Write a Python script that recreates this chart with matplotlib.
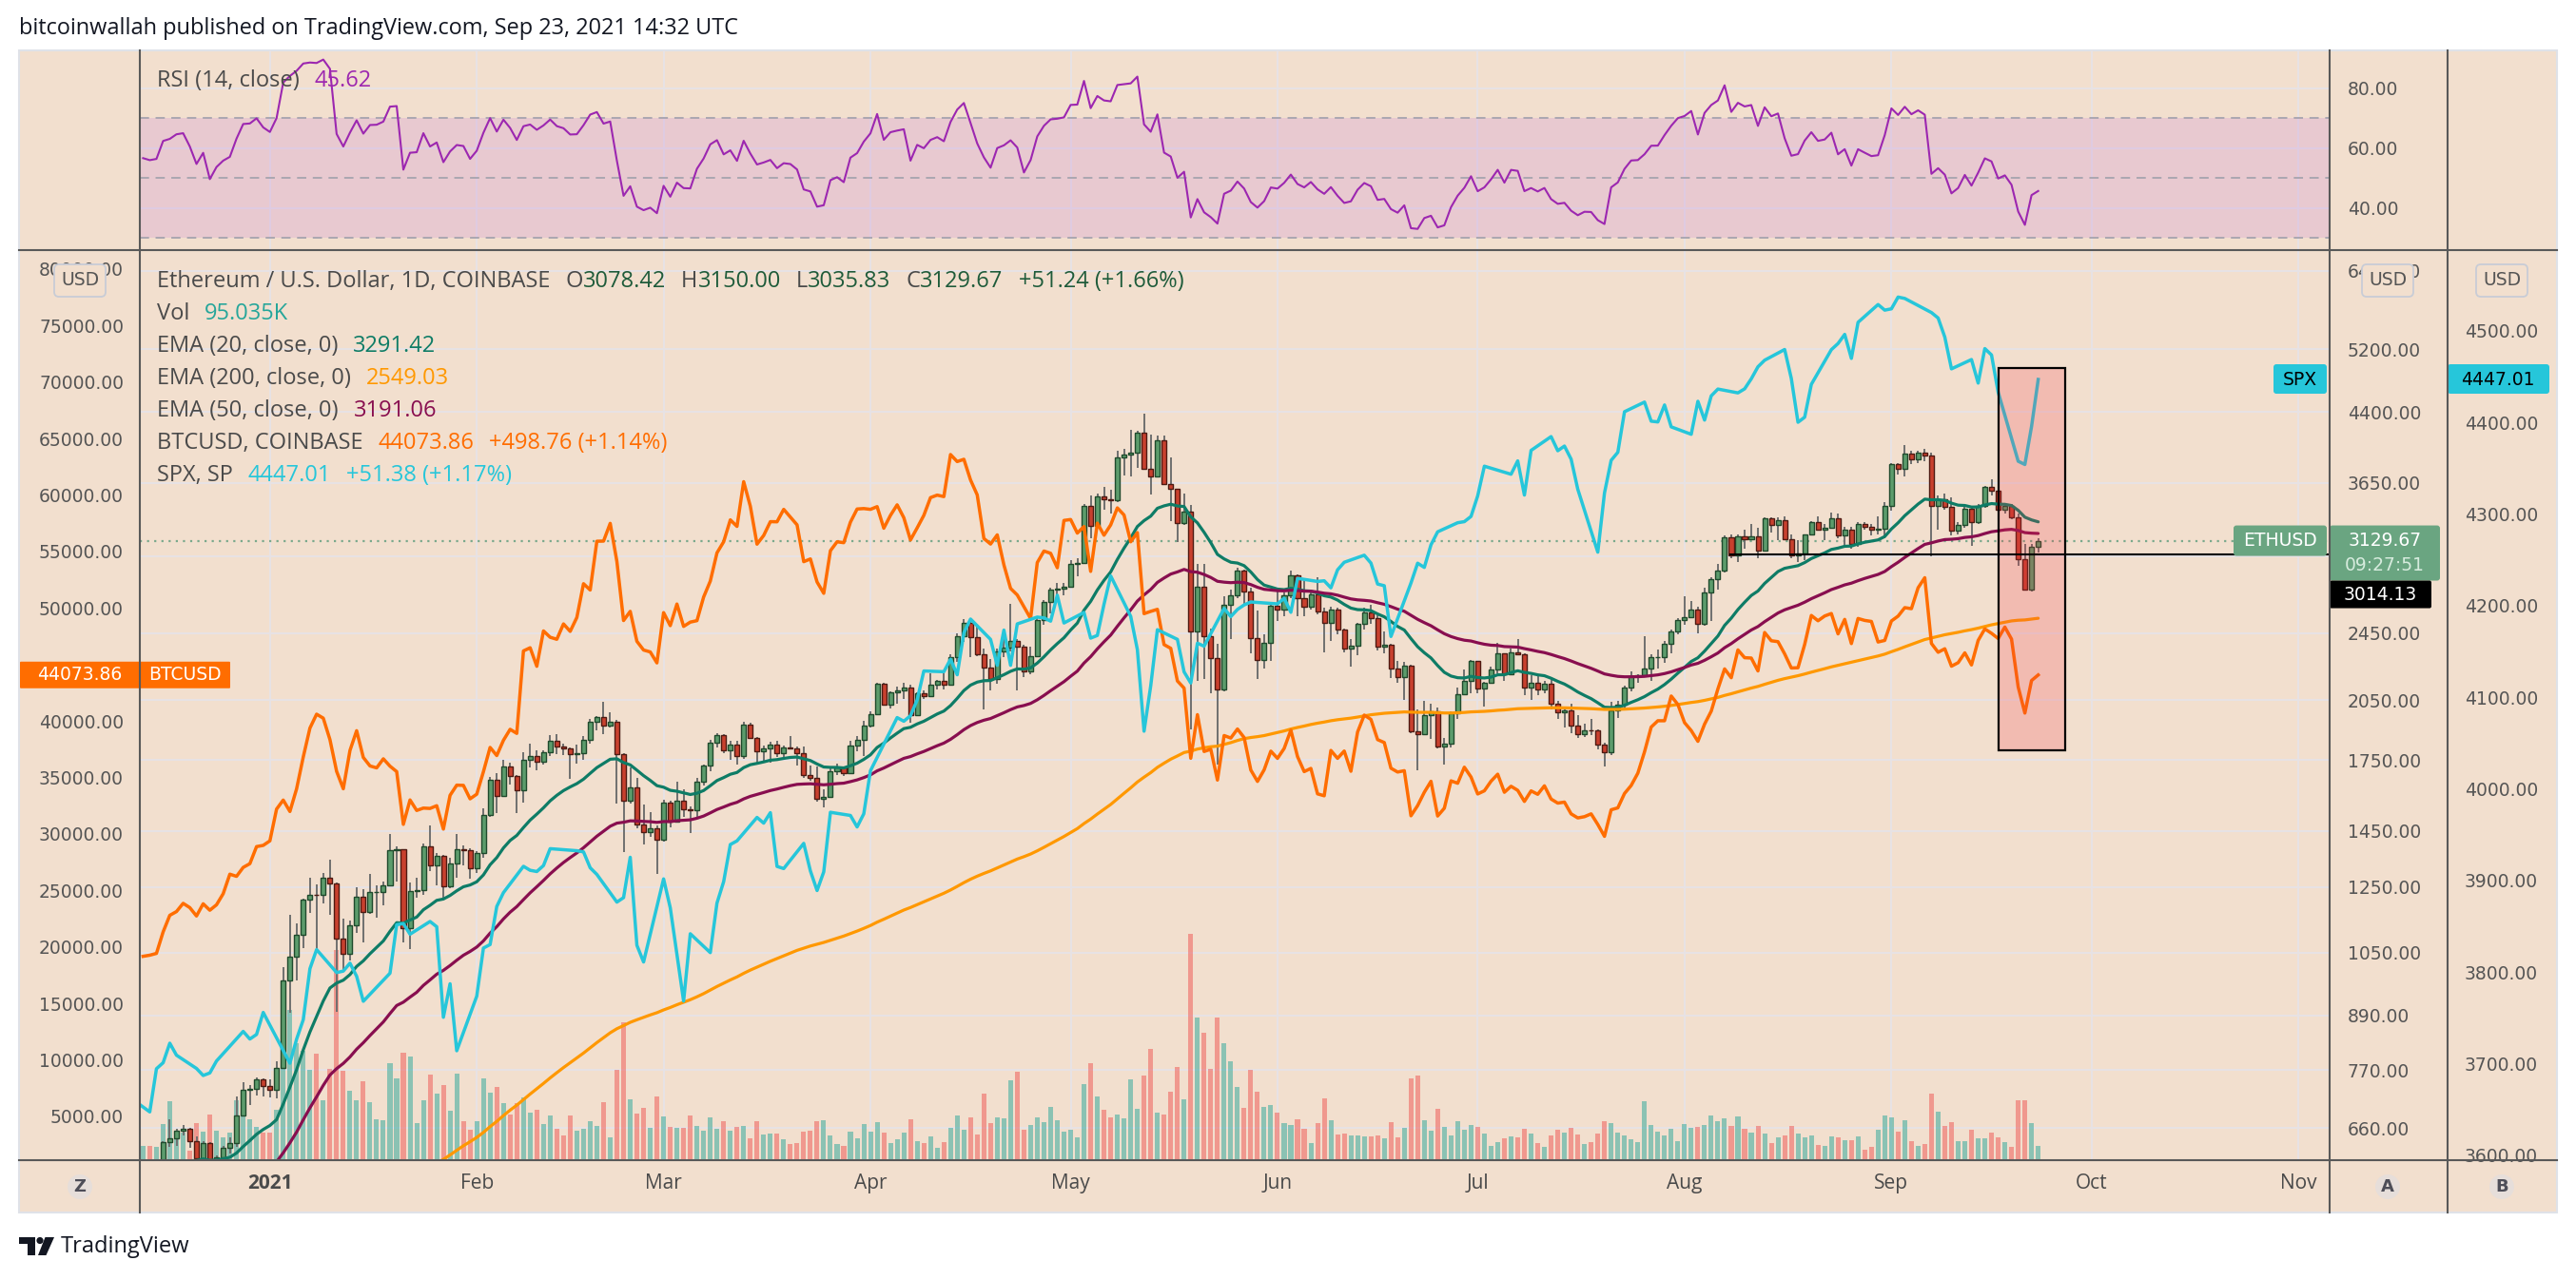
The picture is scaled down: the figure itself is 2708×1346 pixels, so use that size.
import numpy as np
import pandas as pd
import matplotlib
matplotlib.use("Agg")
import matplotlib.pyplot as plt
import matplotlib.transforms as mtransforms
import matplotlib.ticker as mticker
from matplotlib.patches import Rectangle, FancyBboxPatch, Circle, Polygon
from matplotlib.lines import Line2D

# ------------------------------------------------------------------ data
start_date = "2020-12-13"
end_date = "2021-09-23"
eth_first_open = 568.0

eth_close_dec = [590, 586, 589, 636, 642, 655, 658, 638, 609, 634, 584, 611, 626, 635, 683, 731, 733, 751, 737]
eth_close_jan = [730, 774, 975, 1040, 1100, 1208, 1225, 1224, 1281, 1262, 1090, 1046, 1130, 1219, 1171, 1233, 1235, 1257, 1377, 1382, 1121, 1236, 1240, 1391, 1324, 1356, 1252, 1331, 1382, 1377, 1313]
eth_close_feb = [1369, 1512, 1660, 1593, 1719, 1677, 1614, 1751, 1769, 1743, 1785, 1843, 1814, 1805, 1779, 1781, 1848, 1937, 1960, 1919, 1935, 1777, 1571, 1626, 1475, 1446, 1459, 1417]
eth_close_mar = [1565, 1488, 1573, 1536, 1534, 1653, 1724, 1834, 1869, 1795, 1825, 1770, 1924, 1855, 1792, 1806, 1823, 1780, 1810, 1806, 1781, 1680, 1669, 1581, 1587, 1700, 1715, 1691, 1819, 1846, 1919]
eth_close_apr = [1977, 2143, 2028, 2093, 2107, 2118, 1971, 2088, 2071, 2135, 2157, 2139, 2299, 2432, 2514, 2422, 2316, 2235, 2171, 2332, 2357, 2402, 2363, 2211, 2307, 2534, 2662, 2747, 2756, 2773]
eth_close_may = [2945, 2950, 3431, 3253, 3522, 3490, 3484, 3902, 3928, 3952, 4168, 3785, 3715, 4079, 3640, 3588, 3282, 3378, 2460, 2773, 2430, 2295, 2109, 2643, 2706, 2888, 2736, 2419, 2279, 2390, 2633]
eth_close_jun = [2610, 2710, 2856, 2690, 2630, 2713, 2592, 2517, 2608, 2471, 2353, 2372, 2508, 2590, 2548, 2363, 2373, 2230, 2178, 2245, 1888, 1875, 1970, 1990, 1812, 1829, 1980, 2085, 2160, 2275]
eth_close_jul = [2113, 2150, 2227, 2322, 2198, 2326, 2317, 2118, 2146, 2112, 2140, 2034, 1987, 1994, 1919, 1875, 1895, 1893, 1822, 1787, 1995, 2028, 2123, 2187, 2190, 2233, 2298, 2299, 2381, 2462, 2536]
eth_close_aug = [2557, 2607, 2508, 2725, 2827, 2891, 3158, 3013, 3163, 3142, 3164, 3046, 3322, 3265, 3308, 3145, 3012, 3029, 3181, 3287, 3226, 3242, 3320, 3172, 3225, 3103, 3270, 3244, 3220, 3228, 3433]
eth_close_sep = [3834, 3788, 3937, 3886, 3953, 3925, 3428, 3495, 3427, 3211, 3266, 3407, 3287, 3430, 3608, 3577, 3397, 3432, 3330, 2978, 2752, 3078.42, 3129.67]

eth_high_dec = [592, 592, 597, 638, 676, 659, 666, 660, 646, 638, 636, 614, 630, 644, 718, 746, 739, 754, 752]
eth_high_jan = [750, 787, 1011, 1160, 1136, 1211, 1280, 1260, 1298, 1345, 1265, 1150, 1145, 1248, 1244, 1295, 1256, 1268, 1440, 1393, 1382, 1265, 1280, 1403, 1473, 1367, 1360, 1352, 1437, 1395, 1384]
eth_high_feb = [1375, 1540, 1672, 1690, 1749, 1738, 1680, 1785, 1827, 1794, 1795, 1870, 1873, 1827, 1808, 1825, 1867, 1950, 1965, 2040, 1985, 1945, 1780, 1716, 1670, 1554, 1525, 1470]
eth_high_mar = [1575, 1570, 1654, 1620, 1547, 1669, 1730, 1845, 1878, 1876, 1840, 1840, 1935, 1933, 1862, 1820, 1835, 1840, 1817, 1867, 1813, 1815, 1723, 1720, 1620, 1710, 1733, 1720, 1840, 1863, 1940]
eth_high_apr = [1990, 2146, 2145, 2100, 2125, 2145, 2135, 2095, 2102, 2200, 2165, 2200, 2318, 2449, 2545, 2545, 2495, 2352, 2290, 2350, 2445, 2645, 2409, 2373, 2365, 2557, 2675, 2760, 2798, 2800]
eth_high_may = [2970, 2990, 3450, 3530, 3550, 3610, 3580, 3970, 3990, 4200, 4188, 4385, 4150, 4140, 4135, 3900, 3590, 3550, 3440, 2940, 2940, 2480, 2380, 2700, 2750, 2910, 2895, 2765, 2600, 2440, 2640]
eth_high_jun = [2740, 2725, 2890, 2860, 2820, 2745, 2840, 2620, 2630, 2620, 2480, 2410, 2520, 2620, 2640, 2570, 2460, 2380, 2275, 2270, 2250, 2000, 2045, 2030, 2010, 1855, 1990, 2120, 2225, 2280]
eth_high_jul = [2275, 2155, 2240, 2390, 2322, 2350, 2410, 2320, 2190, 2190, 2160, 2170, 2045, 2005, 2030, 1970, 1925, 1950, 1900, 1830, 2040, 2045, 2130, 2215, 2195, 2430, 2315, 2345, 2400, 2470, 2550]
eth_high_aug = [2700, 2665, 2630, 2760, 2840, 2945, 3175, 3185, 3180, 3225, 3270, 3235, 3330, 3330, 3330, 3335, 3180, 3135, 3185, 3300, 3335, 3270, 3375, 3360, 3250, 3245, 3285, 3290, 3270, 3340, 3470]
eth_high_sep = [3840, 3840, 4030, 3975, 3970, 3990, 3950, 3530, 3550, 3510, 3290, 3440, 3410, 3445, 3615, 3680, 3590, 3460, 3445, 3360, 3100, 3100, 3150.00]

eth_low_dec = [567, 577, 580, 585, 628, 630, 647, 627, 600, 598, 565, 578, 605, 617, 628, 682, 702, 719, 718]
eth_low_jan = [715, 714, 773, 895, 976, 1063, 1167, 1060, 1196, 1160, 898, 1004, 1030, 1107, 1080, 1165, 1153, 1190, 1257, 1268, 1078, 1060, 1215, 1225, 1304, 1255, 1216, 1245, 1282, 1325, 1278]
eth_low_feb = [1296, 1351, 1507, 1520, 1597, 1641, 1520, 1563, 1716, 1705, 1727, 1767, 1776, 1772, 1665, 1735, 1750, 1827, 1893, 1875, 1906, 1560, 1371, 1560, 1460, 1400, 1427, 1293]
eth_low_mar = [1410, 1463, 1486, 1506, 1441, 1507, 1635, 1700, 1808, 1780, 1750, 1730, 1757, 1850, 1732, 1740, 1738, 1765, 1750, 1800, 1726, 1670, 1655, 1567, 1544, 1588, 1680, 1676, 1685, 1793, 1770]
eth_low_apr = [1906, 1970, 2022, 2007, 2030, 2057, 1930, 1968, 2055, 2069, 2110, 2110, 2135, 2270, 2395, 2300, 2306, 2000, 2105, 2140, 2300, 2335, 2106, 2180, 2195, 2307, 2505, 2580, 2670, 2709]
eth_low_may = [2773, 2850, 2950, 3150, 3237, 3400, 3360, 3462, 3720, 3710, 3800, 3780, 3540, 3725, 3630, 3300, 3120, 3260, 1900, 2160, 2170, 2090, 1730, 2100, 2410, 2690, 2650, 2320, 2170, 2230, 2275]
eth_low_jun = [2530, 2560, 2690, 2560, 2560, 2605, 2575, 2330, 2400, 2440, 2330, 2240, 2310, 2470, 2510, 2340, 2320, 2175, 2150, 2050, 1880, 1705, 1880, 1850, 1805, 1730, 1810, 1950, 2080, 2090]
eth_low_jul = [2090, 2015, 2140, 2200, 2160, 2190, 2310, 2080, 2050, 2080, 2090, 2000, 1950, 1910, 1880, 1855, 1860, 1870, 1800, 1720, 1775, 1955, 1995, 2100, 2150, 2180, 2160, 2230, 2265, 2320, 2440]
eth_low_aug = [2505, 2560, 2450, 2500, 2530, 2750, 2880, 2990, 2955, 3060, 3140, 2985, 3040, 3200, 3130, 3140, 2985, 2960, 2975, 3175, 3210, 3130, 3235, 3150, 3070, 3065, 3080, 3220, 3170, 3180, 3150]
eth_low_sep = [3385, 3725, 3715, 3830, 3845, 3860, 3000, 3220, 3395, 3170, 3180, 3240, 3090, 3270, 3410, 3530, 3360, 3360, 3310, 2930, 2740, 2735, 3035.83]

# ETH volume, thousands of ETH
vol_dec = [99, 99, 93, 246, 399, 164, 186, 67, 250, 192, 308, 198, 153, 186, 408, 373, 276, 224, 190]
vol_jan = [186, 341, 794, 1020, 794, 746, 613, 723, 406, 619, 1432, 606, 470, 406, 535, 393, 276, 270, 658, 554, 729, 703, 250, 406, 580, 451, 509, 334, 587, 263, 205]
vol_feb = [263, 554, 457, 496, 386, 308, 386, 425, 321, 341, 244, 302, 211, 166, 302, 198, 211, 263, 231, 393, 153, 617, 936, 412, 315, 354, 218, 431]
vol_mar = [296, 224, 218, 218, 302, 231, 198, 289, 211, 263, 198, 224, 231, 147, 263, 173, 179, 179, 140, 108, 114, 192, 198, 263, 270, 166, 108, 95, 192, 147, 244]
vol_apr = [192, 257, 186, 114, 140, 186, 276, 127, 114, 160, 82, 121, 218, 302, 205, 289, 173, 451, 250, 289, 283, 541, 600, 205, 237, 289, 257, 360, 270, 192]
vol_may = [205, 153, 516, 658, 431, 341, 289, 308, 283, 548, 347, 574, 755, 321, 308, 464, 632, 412, 1538, 968, 865, 619, 968, 794, 671, 496, 354, 613, 464, 360, 373]
vol_jun = [321, 250, 237, 276, 211, 114, 250, 418, 270, 173, 179, 166, 166, 160, 160, 166, 147, 257, 153, 218, 554, 574, 270, 198, 347, 224, 166, 263, 205, 237]
vol_jul = [224, 179, 95, 121, 147, 160, 153, 211, 179, 114, 88, 166, 205, 186, 218, 173, 108, 121, 179, 263, 250, 186, 166, 140, 121, 399, 237, 192, 166, 211, 127]
vol_aug = [244, 218, 224, 237, 302, 263, 283, 231, 296, 211, 186, 231, 179, 114, 153, 166, 231, 179, 153, 166, 101, 95, 160, 153, 134, 134, 160, 69, 88, 205, 302]
vol_sep = [289, 192, 270, 127, 95, 108, 451, 328, 231, 257, 127, 127, 205, 147, 147, 186, 153, 121, 88, 406, 406, 250, 95.035]

# BTCUSD daily close
btc_dec = [19170, 19270, 19430, 21330, 22800, 23130, 23860, 23480, 22740, 23820, 23250, 23730, 24710, 26440, 26250, 27040, 27370, 28880, 28990]
btc_jan = [29390, 32200, 33000, 31990, 33990, 36810, 39370, 40600, 40250, 38350, 35540, 34000, 37390, 39140, 36770, 36020, 35850, 36650, 36000, 35520, 30850, 33010, 32080, 32290, 32260, 32500, 30430, 33420, 34320, 34300, 33110]
btc_feb = [33520, 35510, 37660, 36940, 38290, 39260, 38900, 46200, 46480, 44840, 47970, 47410, 47230, 48590, 47930, 49160, 52150, 51590, 55910, 55920, 57490, 54120, 48890, 49700, 47050, 46280, 46110, 45140]
btc_mar = [49590, 48440, 50350, 48370, 48750, 48880, 50970, 52380, 54880, 55860, 57800, 57220, 61180, 59000, 55650, 56420, 57640, 57630, 58730, 58040, 57360, 54100, 54340, 52300, 51300, 55070, 55860, 55780, 57600, 58760, 58800]
btc_apr = [58730, 58970, 57060, 58200, 59130, 57990, 56020, 57090, 58200, 59770, 59990, 59860, 63580, 62960, 63160, 61330, 60010, 56150, 55660, 56470, 53810, 51730, 51150, 50110, 49070, 54020, 55040, 54840, 53560, 57750]
btc_may = [57830, 56630, 57210, 53240, 57510, 56440, 57350, 58860, 58230, 55860, 56670, 49500, 49700, 49880, 46760, 46430, 43540, 42910, 36700, 40560, 37300, 37500, 34770, 38710, 38490, 39290, 38530, 35660, 34650, 35680, 37330]
btc_jun = [36690, 37570, 39190, 36850, 35520, 35800, 33550, 33380, 37390, 36690, 37340, 35550, 39020, 40520, 40140, 38350, 38090, 35820, 35480, 35600, 31610, 32510, 33690, 34660, 31590, 32280, 34700, 34490, 35910, 35040]
btc_jul = [33540, 33820, 34670, 35290, 33690, 34220, 33860, 32880, 33810, 33510, 34260, 33090, 32730, 32820, 31780, 31420, 31530, 31780, 30840, 29790, 32140, 32310, 33580, 34290, 35380, 37270, 39460, 40020, 40020, 42210, 41460]
btc_aug = [39850, 39150, 38200, 39720, 40870, 42840, 44610, 43830, 46290, 45600, 45570, 44430, 47830, 47100, 47020, 45940, 44690, 44710, 46770, 49340, 48870, 49290, 49510, 47710, 48990, 46850, 49070, 48900, 48810, 46990, 47130]
btc_sep = [48850, 49280, 50030, 49940, 51790, 52680, 46860, 46080, 46390, 44850, 45160, 46030, 44960, 47130, 48150, 47760, 47300, 48310, 47250, 43010, 40700, 43580, 44073.86]

# SPX closes on trading days (month, day-of-month lists)
spx_days = {
    "2020-12": [11, 14, 15, 16, 17, 18, 21, 22, 23, 24, 28, 29, 30, 31],
    "2021-01": [4, 5, 6, 7, 8, 11, 12, 13, 14, 15, 19, 20, 21, 22, 25, 26, 27, 28, 29],
    "2021-02": [1, 2, 3, 4, 5, 8, 9, 10, 11, 12, 16, 17, 18, 19, 22, 23, 24, 25, 26],
    "2021-03": [1, 2, 3, 4, 5, 8, 9, 10, 11, 12, 15, 16, 17, 18, 19, 22, 23, 24, 25, 26, 29, 30, 31],
    "2021-04": [1, 5, 6, 7, 8, 9, 12, 13, 14, 15, 16, 19, 20, 21, 22, 23, 26, 27, 28, 29, 30],
    "2021-05": [3, 4, 5, 6, 7, 10, 11, 12, 13, 14, 17, 18, 19, 20, 21, 24, 25, 26, 27, 28],
    "2021-06": [1, 2, 3, 4, 7, 8, 9, 10, 11, 14, 15, 16, 17, 18, 21, 22, 23, 24, 25, 28, 29, 30],
    "2021-07": [1, 2, 6, 7, 8, 9, 12, 13, 14, 15, 16, 19, 20, 21, 22, 23, 26, 27, 28, 29, 30],
    "2021-08": [2, 3, 4, 5, 6, 9, 10, 11, 12, 13, 16, 17, 18, 19, 20, 23, 24, 25, 26, 27, 30, 31],
    "2021-09": [1, 2, 3, 7, 8, 9, 10, 13, 14, 15, 16, 17, 20, 21, 22, 23],
}
spx_close = {
    "2020-12": [3663.46, 3647.49, 3694.62, 3701.17, 3722.48, 3709.41, 3694.92, 3687.26, 3690.01, 3703.06, 3735.36, 3727.04, 3732.04, 3756.07],
    "2021-01": [3700.65, 3726.86, 3748.14, 3803.79, 3824.68, 3799.61, 3801.19, 3809.84, 3795.54, 3768.25, 3798.91, 3851.85, 3853.07, 3841.47, 3855.36, 3849.62, 3750.77, 3787.38, 3714.24],
    "2021-02": [3773.86, 3826.31, 3830.17, 3871.74, 3886.83, 3915.59, 3911.23, 3909.88, 3916.38, 3934.83, 3932.59, 3931.33, 3913.97, 3906.71, 3876.50, 3881.37, 3925.43, 3829.34, 3811.15],
    "2021-03": [3901.82, 3870.29, 3819.72, 3768.47, 3841.94, 3821.35, 3875.44, 3898.81, 3939.34, 3943.34, 3968.94, 3962.71, 3974.12, 3915.46, 3913.10, 3940.59, 3910.52, 3889.14, 3909.52, 3974.54, 3971.09, 3958.55, 3972.89],
    "2021-04": [4019.87, 4077.91, 4073.94, 4079.95, 4097.17, 4128.80, 4127.99, 4141.59, 4124.66, 4170.42, 4185.47, 4163.26, 4134.94, 4173.42, 4134.98, 4180.17, 4187.62, 4186.72, 4183.18, 4211.47, 4181.17],
    "2021-05": [4192.66, 4164.66, 4167.59, 4201.62, 4232.60, 4188.43, 4152.10, 4063.04, 4112.50, 4173.85, 4163.29, 4127.83, 4115.68, 4159.12, 4155.86, 4197.05, 4188.13, 4195.99, 4200.88, 4204.11],
    "2021-06": [4202.04, 4208.12, 4192.85, 4229.89, 4226.52, 4227.26, 4219.55, 4239.18, 4247.44, 4255.15, 4246.59, 4223.70, 4221.86, 4166.45, 4224.79, 4246.44, 4241.84, 4266.49, 4280.70, 4290.61, 4291.80, 4297.50],
    "2021-07": [4319.94, 4352.34, 4343.54, 4358.13, 4320.82, 4369.55, 4384.63, 4369.21, 4374.30, 4360.03, 4327.16, 4258.49, 4323.06, 4358.69, 4367.48, 4411.79, 4422.30, 4401.46, 4400.64, 4419.15, 4395.26],
    "2021-08": [4387.16, 4423.15, 4402.66, 4429.10, 4436.52, 4432.35, 4436.75, 4447.70, 4460.83, 4468.00, 4479.71, 4448.08, 4400.27, 4405.80, 4441.67, 4479.53, 4486.23, 4496.19, 4470.00, 4509.37, 4528.79, 4522.68],
    "2021-09": [4524.09, 4536.95, 4535.43, 4520.03, 4514.07, 4493.28, 4458.58, 4468.73, 4443.05, 4480.70, 4473.75, 4432.99, 4357.73, 4354.19, 4395.64, 4447.01],
}

# indicator settings / seeds (values estimated at the day before the first candle)
ema_lengths = [20, 50, 200]
ema_seeds = [575.0, 515.0, 380.0]
rsi_length = 14
rsi_seed_gain, rsi_seed_loss = 14.0, 12.0

# axis ticks (45000 is hidden behind the BTC price label in the original)
btc_ticks = [5000, 10000, 15000, 20000, 25000, 30000, 35000, 40000, 50000, 55000, 60000, 65000, 70000, 75000, 80000]
eth_ticks = [660, 770, 890, 1050, 1250, 1450, 1750, 2050, 2450, 3650, 4400, 5200, 6400]
eth_grid_extra = [3000]
spx_ticks = [3600, 3700, 3800, 3900, 4000, 4100, 4200, 4300, 4400, 4500]
rsi_ticks = [40, 60, 80]
month_dates = ["2021-01-01", "2021-02-01", "2021-03-01", "2021-04-01", "2021-05-01", "2021-06-01",
               "2021-07-01", "2021-08-01", "2021-09-01", "2021-10-01", "2021-11-01"]
month_labels = ["2021", "Feb", "Mar", "Apr", "May", "Jun", "Jul", "Aug", "Sep", "Oct", "Nov"]

# annotations drawn by the author
box_start, box_end = "2021-09-17", "2021-09-27"
box_low, box_high = 1796, 4945
hline_start, hline_value = "2021-08-07 16:00", 3014.13

title_text = "bitcoinwallah published on TradingView.com, Sep 23, 2021 14:32 UTC"
eth_last, btc_last, spx_last = 3129.67, 44073.86, 4447.01
countdown = "09:27:51"

# ------------------------------------------------------------------ derived series
base = pd.Timestamp("2021-01-01")
dates = pd.date_range(start_date, end_date, freq="D")
days = (dates - base).days.values.astype(float)

def cat(*parts):
    out = []
    for p in parts:
        out += list(p)
    return np.array(out, dtype=float)

eth_close = cat(eth_close_dec, eth_close_jan, eth_close_feb, eth_close_mar, eth_close_apr, eth_close_may,
                eth_close_jun, eth_close_jul, eth_close_aug, eth_close_sep)
eth_high = cat(eth_high_dec, eth_high_jan, eth_high_feb, eth_high_mar, eth_high_apr, eth_high_may,
               eth_high_jun, eth_high_jul, eth_high_aug, eth_high_sep)
eth_low = cat(eth_low_dec, eth_low_jan, eth_low_feb, eth_low_mar, eth_low_apr, eth_low_may,
              eth_low_jun, eth_low_jul, eth_low_aug, eth_low_sep)
volume = cat(vol_dec, vol_jan, vol_feb, vol_mar, vol_apr, vol_may, vol_jun, vol_jul, vol_aug, vol_sep)
btc = cat(btc_dec, btc_jan, btc_feb, btc_mar, btc_apr, btc_may, btc_jun, btc_jul, btc_aug, btc_sep)
eth_open = np.concatenate([[eth_first_open], eth_close[:-1]])
eth_high = np.maximum(eth_high, np.maximum(eth_open, eth_close))
eth_low = np.minimum(eth_low, np.minimum(eth_open, eth_close))

spx_x, spx_y = [], []
for ym, dl in spx_days.items():
    for d, v in zip(dl, spx_close[ym]):
        spx_x.append((pd.Timestamp(f"{ym}-{d:02d}") - base).days)
        spx_y.append(v)
spx_x = np.array(spx_x, float)
spx_y = np.array(spx_y, float)

def ema(values, n, seed):
    a = 2.0 / (n + 1)
    out = np.empty(len(values))
    prev = seed
    for i, v in enumerate(values):
        prev = a * v + (1 - a) * prev
        out[i] = prev
    return out

def rsi(values, n, prev_close, g0, l0):
    out = np.empty(len(values))
    g, l, pc = g0, l0, prev_close
    for i, v in enumerate(values):
        ch = v - pc
        g = (g * (n - 1) + max(ch, 0)) / n
        l = (l * (n - 1) + max(-ch, 0)) / n
        out[i] = 100 - 100 / (1 + g / l)
        pc = v
    return out

emas = [ema(eth_close, n, s) for n, s in zip(ema_lengths, ema_seeds)]
rsi_vals = rsi(eth_close, rsi_length, eth_first_open, rsi_seed_gain, rsi_seed_loss)

# ------------------------------------------------------------------ style
W, H = 2708, 1346
BG = "#F2DFCE"
GRID = "#E7E3E5"
SEP = "#595959"
TXT = "#4A4A4A"
AXT = "#555555"
UP_FILL, UP_EDGE = "#5C9C6C", "#1F4A2C"
DN_FILL, DN_EDGE = "#C8402E", "#4E1A12"
WICK = "#6F6F6F"
C_EMA20, C_EMA50, C_EMA200 = "#0E7C66", "#880E4F", "#FF9800"
C_BTC, C_SPX, C_RSI = "#FF6D00", "#26C6DA", "#9C27B0"
C_ETHLBL = "#6AA581"
LEG_FONT = "Open Sans"
AX_FONT = "DejaVu Sans"

fig = plt.figure(figsize=(W / 100, H / 100), dpi=100)
fig.patch.set_facecolor("white")
IDT = mtransforms.IdentityTransform()

PL, PR = 147, 2449
RSI_T, MAIN_T, MAIN_B, CONT_B = 53, 263, 1220, 1275
XLIM = (-19.49, 308.67)

def rect(x0, y0, x1, y1):
    return [x0 / W, 1 - y1 / H, (x1 - x0) / W, (y1 - y0) / H]

def make_ax(r, z):
    ax = fig.add_axes(r)
    ax.set_zorder(z)
    ax.patch.set_visible(False)
    for s in ax.spines.values():
        s.set_visible(False)
    ax.set_xlim(*XLIM)
    return ax

# container background
fig.add_artist(Rectangle((20, H - CONT_B), 2668, CONT_B - RSI_T, transform=IDT,
                         facecolor=BG, edgecolor="#DFE2E8", lw=1.5, zorder=-5))

month_x = [(pd.Timestamp(m) - base).days for m in month_dates]

# ---------------- RSI pane
ax_rsi = make_ax(rect(PL, RSI_T, PR, MAIN_T), 1)
ax_rsi.set_ylim(25.93, 92.68)
ax_rsi.set_xticks(month_x)
ax_rsi.set_yticks(rsi_ticks, labels=[f"{v:.2f}" for v in rsi_ticks])
ax_rsi.grid(True, color=GRID, lw=1.4, zorder=0)
ax_rsi.set_axisbelow(True)
ax_rsi.yaxis.tick_right()
ax_rsi.tick_params(axis="x", length=0, labelbottom=False)
ax_rsi.tick_params(axis="y", length=0, pad=13.5, labelsize=13.5, labelcolor=AXT, labelfontfamily=AX_FONT)
ax_rsi.axhspan(30, 70, color=(192 / 255, 113 / 255, 217 / 255), alpha=0.2, lw=0, zorder=1)
for lvl in (70, 50, 30):
    ax_rsi.axhline(lvl, color="#ABA7B1", lw=1.4, ls=(0, (5, 3.5)), zorder=2)
ax_rsi.plot(days, rsi_vals, color=C_RSI, lw=1.5, zorder=3)

# ---------------- grid / time axis
ax_grid = make_ax(rect(PL, MAIN_T, PR, MAIN_B), 1)
ax_grid.set_yscale("log")
ax_grid.set_ylim(606.1, 6759)
ax_grid.set_yticks(sorted(eth_ticks + eth_grid_extra))
ax_grid.yaxis.set_minor_locator(mticker.NullLocator())
ax_grid.set_xticks(month_x, labels=month_labels)
ax_grid.grid(True, color=GRID, lw=1.4)
ax_grid.tick_params(axis="y", left=False, labelleft=False)
ax_grid.tick_params(axis="x", length=0, pad=10, labelsize=15, labelcolor=TXT, labelfontfamily=LEG_FONT)
ax_grid.get_xticklabels()[0].set_fontweight("bold")

# ---------------- volume
ax_vol = make_ax(rect(PL, MAIN_T, PR, MAIN_B), 2)
ax_vol.set_ylim(0, 6192)
up = eth_close >= eth_open
vcol = np.where(up, "#26A69A", "#EF5350")
ax_vol.bar(days, volume, width=0.72, color=vcol, alpha=0.5, lw=0)
ax_vol.set_xticks([]); ax_vol.set_yticks([])

# ---------------- ETH candles + EMAs
ax_eth = make_ax(rect(PL, MAIN_T, PR, MAIN_B), 3)
ax_eth.set_yscale("log")
ax_eth.set_ylim(606.1, 6759)
ax_eth.axhline(eth_last, color="#7AA98C", lw=1.6, ls=(0, (1, 2.4)), zorder=1)
ax_eth.vlines(days, eth_low, eth_high, color=WICK, lw=1.4, zorder=2)
bb = np.minimum(eth_open, eth_close)
bh = np.abs(eth_close - eth_open)
ax_eth.bar(days[up], bh[up], bottom=bb[up], width=0.72, color=UP_FILL, edgecolor=UP_EDGE, lw=1.0, zorder=3)
ax_eth.bar(days[~up], bh[~up], bottom=bb[~up], width=0.72, color=DN_FILL, edgecolor=DN_EDGE, lw=1.0, zorder=3)
for vals, col in zip(emas, [C_EMA20, C_EMA50, C_EMA200]):
    ax_eth.plot(days, vals, color=col, lw=2.3, zorder=4, solid_capstyle="round")
ax_eth.set_xticks([])
ax_eth.set_yticks(eth_ticks, labels=[f"{v:.2f}" for v in eth_ticks])
ax_eth.yaxis.set_minor_locator(mticker.NullLocator())
ax_eth.yaxis.tick_right()
ax_eth.tick_params(axis="y", which="both", length=0, pad=13.5, labelsize=13.5, labelcolor=AXT,
                   labelfontfamily=AX_FONT)

# ---------------- BTC (left scale)
ax_btc = make_ax(rect(PL, MAIN_T, PR, MAIN_B), 4)
ax_btc.set_ylim(1128, 81675)
ax_btc.plot(days, btc, color=C_BTC, lw=2.5, solid_joinstyle="round")
ax_btc.set_xticks([])
ax_btc.set_yticks(btc_ticks, labels=[f"{v:.2f}" for v in btc_ticks])
ax_btc.tick_params(axis="y", length=0, pad=12.2, labelsize=13.5, labelcolor=AXT, labelfontfamily=AX_FONT)

# ---------------- SPX (right scale B)
ax_spx = make_ax(rect(PL, MAIN_T, PR, MAIN_B), 5)
ax_spx.set_ylim(3594.8, 4588.2)
ax_spx.plot(spx_x, spx_y, color=C_SPX, lw=2.5, solid_joinstyle="round")
ax_spx.set_xticks([])
ax_spx.set_yticks(spx_ticks, labels=[f"{v:.2f}" for v in spx_ticks])
ax_spx.yaxis.tick_right()
ax_spx.tick_params(axis="y", length=0, pad=102, labelsize=13.5, labelcolor=AXT, labelfontfamily=AX_FONT)

# ---------------- drawings on top
ax_top = make_ax(rect(PL, MAIN_T, PR, MAIN_B), 6)
ax_top.set_yscale("log")
ax_top.set_ylim(606.1, 6759)
ax_top.set_xticks([]); ax_top.set_yticks([])
ax_top.yaxis.set_minor_locator(mticker.NullLocator())
bx0 = (pd.Timestamp(box_start) - base).days
bx1 = (pd.Timestamp(box_end) - base).days
ax_top.add_patch(Rectangle((bx0, box_low), bx1 - bx0, box_high - box_low,
                           facecolor=(242 / 255, 54 / 255, 69 / 255, 0.21), edgecolor="black", lw=1.6, zorder=5))
hx0 = (pd.Timestamp(hline_start) - base).total_seconds() / 86400
ax_top.hlines(hline_value, hx0, XLIM[1], color="black", lw=1.5, zorder=6)

# ------------------------------------------------------------------ frame lines
def hline_px(y, x0, x1, color=SEP, lw=1.5, z=20):
    fig.add_artist(Line2D([x0, x1], [H - y, H - y], transform=IDT, color=color, lw=lw, zorder=z))

def vline_px(x, y0, y1, color=SEP, lw=1.5, z=20):
    fig.add_artist(Line2D([x, x], [H - y0, H - y1], transform=IDT, color=color, lw=lw, zorder=z))

hline_px(MAIN_T, 20, 2688)
hline_px(MAIN_B, 20, 2688)
vline_px(PL, RSI_T, CONT_B)
vline_px(PR, RSI_T, CONT_B)
vline_px(2573, RSI_T, CONT_B)

# ------------------------------------------------------------------ labels
def box_px(x0, y0, x1, y1, fc, ec="none", lw=0, r=3, z=15):
    p = FancyBboxPatch((x0, H - y1), x1 - x0, y1 - y0, boxstyle=f"round,pad=0,rounding_size={r}",
                       transform=IDT, facecolor=fc, edgecolor=ec, lw=lw, zorder=z)
    fig.add_artist(p)

def text_px(x, y, s, color, size=13.5, family=AX_FONT, ha="center", weight="normal", z=16):
    return fig.text(x, H - y, s, transform=IDT, color=color, fontsize=size, family=family,
                    ha=ha, va="center", fontweight=weight, zorder=z)

def y_of(ax, v):
    return H - ax.transData.transform((0, v))[1]

# USD buttons
for x0 in (57, 2483, 2603):
    box_px(x0, 278, x0 + 54, 312, BG, ec="#C8CCD6", lw=1.3, r=5)
    text_px(x0 + 27, 295, "USD", AXT)

# ETH last price labels
ye = y_of(ax_eth, eth_last)
box_px(2348, ye - 16, 2446, ye + 16, C_ETHLBL)
text_px(2397, ye, "ETHUSD", "white")
box_px(2449, ye - 16, 2565, ye + 42, C_ETHLBL)
text_px(2507, ye, f"{eth_last:.2f}", "white")
text_px(2507, ye + 26, countdown, "#D6EBDD")
box_px(2449, ye + 42, 2556, ye + 71, "black", r=2)
text_px(2502, ye + 57, f"{hline_value:.2f}", "white")

# SPX labels
ys = y_of(ax_spx, spx_last)
box_px(2390, ys - 16, 2446, ys + 15, C_SPX)
text_px(2418, ys, "SPX", "black")
box_px(2573, ys - 16, 2680, ys + 15, C_SPX)
text_px(2626, ys, f"{spx_last:.2f}", "black")

# BTC labels
yb = y_of(ax_btc, btc_last)
box_px(21, yb - 14, 147, yb + 14, C_BTC, r=1)
text_px(84, yb, f"{btc_last:.2f}", "white")
box_px(147, yb - 14, 242, yb + 14, C_BTC, r=1)
text_px(194.5, yb, "BTCUSD", "white")

# time-axis circle buttons
for x, s in ((84, "Z"), (2510, "A"), (2630, "B")):
    fig.add_artist(Circle((x, H - 1248), 13, transform=IDT, facecolor="#E6DEDA", edgecolor="none", zorder=15))
    text_px(x, 1248, s, "#4E4E58", size=13, weight="bold")

# ------------------------------------------------------------------ legends
renderer = fig.canvas.get_renderer()
GREEN_V = "#1E5B3A"

def segments(x, y, segs, size=17):
    for s, col, gap in segs:
        t = text_px(x, y, s, col, size=size, family=LEG_FONT, ha="left", z=17)
        x = t.get_window_extent(renderer=renderer).x1 + gap

legend_lines = [
    [("Ethereum / U.S. Dollar, 1D, COINBASE", TXT, 16), ("O", TXT, 0), ("3078.42", GREEN_V, 16),
     ("H", TXT, 0), ("3150.00", GREEN_V, 16), ("L", TXT, 0), ("3035.83", GREEN_V, 16),
     ("C", TXT, 0), ("3129.67", GREEN_V, 16), ("+51.24 (+1.66%)", GREEN_V, 0)],
    [("Vol", TXT, 16), ("95.035K", "#26A69A", 0)],
    [("EMA (20, close, 0)", TXT, 16), ("3291.42", C_EMA20, 0)],
    [("EMA (200, close, 0)", TXT, 16), ("2549.03", C_EMA200, 0)],
    [("EMA (50, close, 0)", TXT, 16), ("3191.06", C_EMA50, 0)],
    [("BTCUSD, COINBASE", TXT, 16), ("44073.86", C_BTC, 16), ("+498.76 (+1.14%)", C_BTC, 0)],
    [("SPX, SP", TXT, 16), ("4447.01", C_SPX, 16), ("+51.38 (+1.17%)", C_SPX, 0)],
]
for i, segs in enumerate(legend_lines):
    segments(165, 296 + 34 * i, segs)
segments(165, 85, [("RSI (14, close)", TXT, 16), ("45.62", C_RSI, 0)])

# title
text_px(20, 30, title_text, "#131722", size=16.9, family=LEG_FONT, ha="left")

# TradingView logo
fig.add_artist(Polygon([(20, H - 1301), (37, H - 1301), (37, H - 1320), (29, H - 1320), (29, H - 1308), (20, H - 1308)],
                       closed=True, transform=IDT, facecolor="#131722", edgecolor="none", zorder=15))
fig.add_artist(Circle((42, H - 1304.5), 3.6, transform=IDT, facecolor="#131722", edgecolor="none", zorder=15))
fig.add_artist(Polygon([(47.5, H - 1301), (57, H - 1301), (48.5, H - 1320), (40, H - 1320)],
                       closed=True, transform=IDT, facecolor="#131722", edgecolor="none", zorder=15))
text_px(64, 1311, "TradingView", "#131722", size=17, family=LEG_FONT, ha="left")

fig.savefig("out.png", dpi=100)
